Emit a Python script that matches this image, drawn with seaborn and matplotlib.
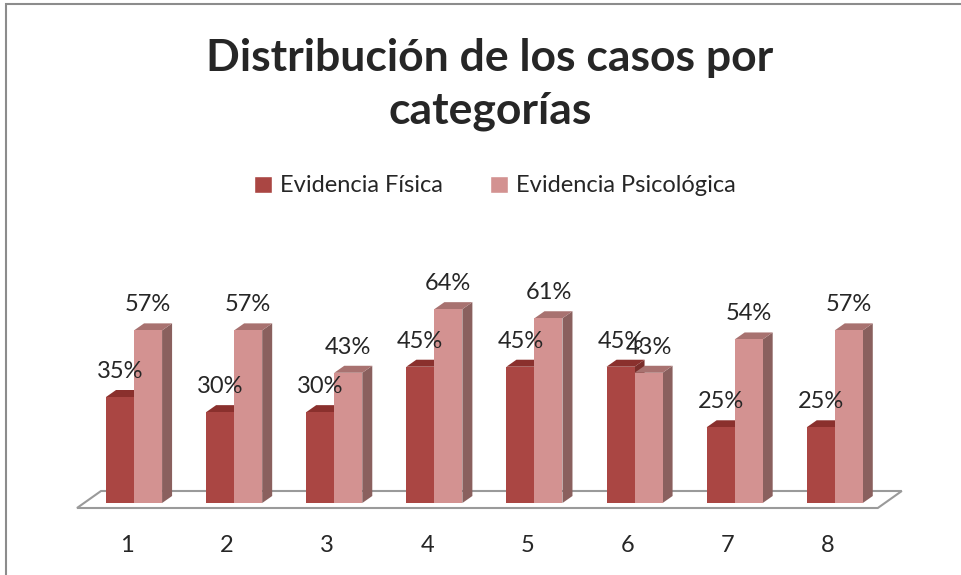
import matplotlib.pyplot as plt
import seaborn as sns
import pandas as pd
from matplotlib.patches import Polygon, Rectangle
from matplotlib.transforms import ScaledTranslation, IdentityTransform

categorias = ['1', '2', '3', '4', '5', '6', '7', '8']
fisica = [35, 30, 30, 45, 45, 45, 25, 25]
psico = [57, 57, 43, 64, 61, 43, 54, 57]
series = ['Evidencia Física', 'Evidencia Psicológica']

colores = ['#AA4643', '#D39291']
tapas = ['#8A302D', '#A87270']
lados = ['#7A2E2B', '#8A605E']

df = pd.DataFrame({
    'cat': categorias * 2,
    'val': fisica + psico,
    'serie': [series[0]] * 8 + [series[1]] * 8,
})

sns.set_style('white')
plt.rcParams['font.family'] = ['Lato', 'DejaVu Sans']

fig = plt.figure(figsize=(9.61, 5.75), dpi=100)
ax = fig.add_axes([84 / 961, 72 / 575, 800.8 / 961, 212 / 575])

sns.barplot(data=df, x='cat', y='val', hue='serie', palette=colores,
            width=0.56, saturation=1, ax=ax, legend=True)
ax.set_xlim(-0.5, 7.5)
ax.set_ylim(0, 70)
sns.despine(ax=ax, left=True, bottom=True)
ax.set_yticks([])
ax.set_xlabel('')
ax.set_ylabel('')
ax.tick_params(axis='x', length=0, pad=23, labelsize=17)
for lab in ax.get_xticklabels():
    lab.set_transform(lab.get_transform() + ScaledTranslation(-0.07, 0, fig.dpi_scale_trans))

# piso en perspectiva
td = ax.transData
dx, dy = 10, 7
fl = td.transform((-0.5, 0))
fr = td.transform((7.5, 0))
piso = [(fl[0] - 7, fl[1] - 5), (fr[0] - 7, fr[1] - 5),
        (fr[0] + 17, fr[1] + 12), (fl[0] + 17, fl[1] + 12)]
ax.add_patch(Polygon(piso, closed=True, facecolor='white', edgecolor='#9a9a9a',
                     lw=1.5, transform=IdentityTransform(), zorder=0.5, clip_on=False))

# caras 3D de cada barra
for i, cont in enumerate(ax.containers):
    for p in cont.patches:
        p.set_zorder(2 + i)
        p.set_edgecolor('none')
        x0, x1, h = p.get_x(), p.get_x() + p.get_width(), p.get_height()
        X0, Y0 = td.transform((x0, 0))
        X1, Yt = td.transform((x1, h))
        top = [(X0, Yt), (X1, Yt), (X1 + dx, Yt + dy), (X0 + dx, Yt + dy)]
        side = [(X1, Y0), (X1, Yt), (X1 + dx, Yt + dy), (X1 + dx, Y0 + dy)]
        ax.add_patch(Polygon(side, closed=True, facecolor=lados[i], edgecolor='none',
                             transform=IdentityTransform(), zorder=1.5 + i, clip_on=False))
        ax.add_patch(Polygon(top, closed=True, facecolor=tapas[i], edgecolor='none',
                             transform=IdentityTransform(), zorder=1.6 + i, clip_on=False))
        ax.annotate(f'{int(h)}%', xy=((x0 + x1) / 2, h), xytext=(0, 19 * 0.72),
                    textcoords='offset points', ha='center', va='baseline',
                    fontsize=17, zorder=5)

sns.move_legend(ax, loc='center', bbox_to_anchor=(495 / 961, 1 - 186 / 575),
                bbox_transform=fig.transFigure, ncol=2, frameon=False, title=None,
                fontsize=17, handlelength=0.75, handleheight=0.75, handletextpad=0.35,
                columnspacing=2.0)

fig.text(490 / 961, 1 - 84.5 / 575, 'Distribución de los casos por\ncategorías',
         ha='center', va='center', fontsize=32, fontweight='bold', linespacing=1.38)

fig.add_artist(Rectangle((6 / 961, -0.1), 1.2, 1.1 - 4 / 575, transform=fig.transFigure,
                         facecolor='none', edgecolor='#8c8c8c', lw=1.5, clip_on=False))

fig.savefig('out.png', dpi=100)
